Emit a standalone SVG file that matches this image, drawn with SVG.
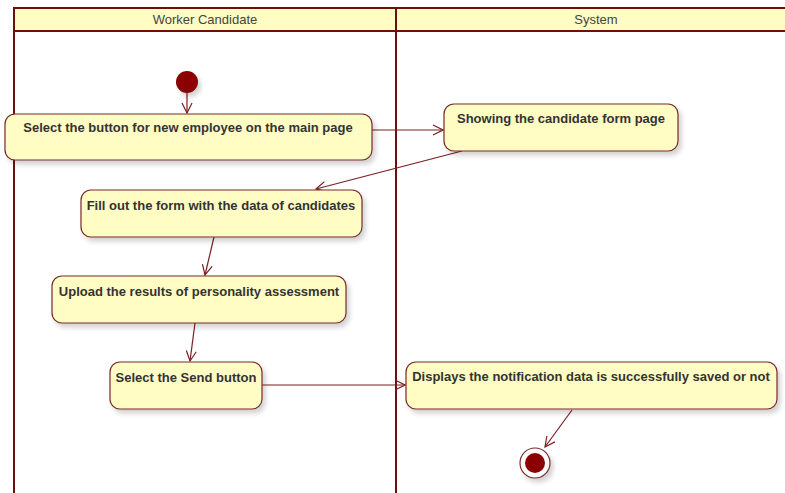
<svg xmlns="http://www.w3.org/2000/svg" width="785" height="493" viewBox="0 0 785 493">
  <defs>
    <marker id="open-arrow" viewBox="0 0 12 12" refX="11" refY="6" markerWidth="12" markerHeight="12" markerUnits="userSpaceOnUse" orient="auto">
      <path d="M1,1 L11,6 L1,11" fill="none" stroke="#7a1f1f" stroke-width="1.2"/>
    </marker>
    <filter id="shadow" x="-10%" y="-20%" width="130%" height="160%">
      <feGaussianBlur in="SourceAlpha" stdDeviation="2.5"/>
      <feOffset dx="3" dy="4" result="b"/>
      <feComponentTransfer><feFuncA type="linear" slope="0.18"/></feComponentTransfer>
      <feMerge><feMergeNode/><feMergeNode in="SourceGraphic"/></feMerge>
    </filter>
  </defs>
  <style>
    .lane { fill: none; stroke: #6e0f0f; stroke-width: 2; }
    .head { fill: #fffcc4; stroke: #6e0f0f; stroke-width: 2; }
    .head-text { font-family: "Liberation Sans", Arial, sans-serif; font-size: 13px; fill: #444; text-anchor: middle; }
    .act { fill: #fffcc4; stroke: #7a2a2a; stroke-width: 1.2; filter: url(#shadow); }
    .label { font-family: "Liberation Sans", Arial, sans-serif; font-size: 13px; font-weight: bold; fill: #333; text-anchor: middle; }
    .flow { fill: none; stroke: #7a1f1f; stroke-width: 1.2; marker-end: url(#open-arrow); }
  </style>
  <rect width="785" height="493" fill="#ffffff"/>

  <!-- swimlanes -->
  <g id="lanes">
    <rect class="head" x="14" y="8" width="382" height="23"/>
    <rect class="head" x="396" y="8" width="392" height="23"/>
    <line class="lane" x1="14" y1="31" x2="14" y2="495"/>
    <line class="lane" x1="396" y1="31" x2="396" y2="495"/>
    <text class="head-text" x="205" y="24">Worker Candidate</text>
    <text class="head-text" x="596" y="24">System</text>
  </g>

  <!-- connectors -->
  <g id="connectors">
    <line class="flow" x1="187" y1="93" x2="187" y2="113"/>
    <line class="flow" x1="372" y1="130" x2="443" y2="130"/>
    <line class="flow" x1="462" y1="151" x2="316" y2="189"/>
    <line class="flow" x1="214" y1="237" x2="205" y2="275"/>
    <line class="flow" x1="195" y1="323" x2="190" y2="361"/>
    <line class="flow" x1="262" y1="385" x2="405" y2="385"/>
    <line class="flow" x1="572" y1="410" x2="545" y2="447"/>
  </g>

  <g id="start">
    <circle cx="187" cy="82" r="11" fill="#8b0000" filter="url(#shadow)"/>
  </g>

  <g id="select-new-employee">
    <rect class="act" x="5" y="114" width="367" height="46" rx="10"/>
    <text class="label" x="188" y="132">Select the button for new employee on the main page</text>
  </g>

  <g id="show-form">
    <rect class="act" x="444" y="104" width="234" height="47" rx="10"/>
    <text class="label" x="561" y="123">Showing the candidate form page</text>
  </g>

  <g id="fill-form">
    <rect class="act" x="81" y="190" width="281" height="47" rx="10"/>
    <text class="label" x="221" y="210">Fill out the form with the data of candidates</text>
  </g>

  <g id="upload-results">
    <rect class="act" x="52" y="276" width="294" height="47" rx="10"/>
    <text class="label" x="199" y="296">Upload the results of personality assessment</text>
  </g>

  <g id="select-send">
    <rect class="act" x="110" y="362" width="152" height="47" rx="10"/>
    <text class="label" x="186" y="382">Select the Send button</text>
  </g>

  <g id="show-notification">
    <rect class="act" x="406" y="362" width="371" height="47" rx="10"/>
    <text class="label" x="591" y="381">Displays the notification data is successfully saved or not</text>
  </g>

  <g id="end">
    <circle cx="535" cy="463" r="15" fill="#ffffff" stroke="#7a2a2a" stroke-width="1.2" filter="url(#shadow)"/>
    <circle cx="535" cy="463" r="10" fill="#8b0000"/>
  </g>
</svg>
